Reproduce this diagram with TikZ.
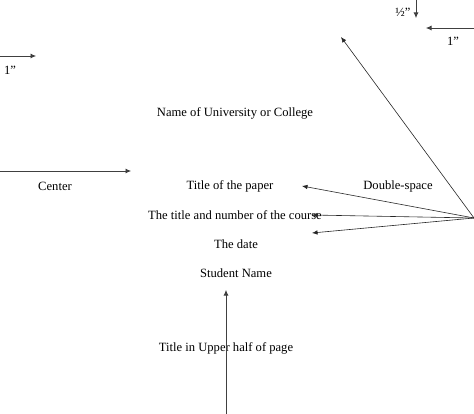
\documentclass[tikz,border=0pt]{standalone}
\usepackage{fontspec}
\setmainfont{Liberation Serif}
\usetikzlibrary{arrows.meta}

\tikzset{
  lbl/.style={inner sep=0pt, font=\fontsize{12.6}{14}\selectfont},
  pointer/.style={draw=black!75, line width=0.7pt, -{Latex[length=5.5pt,width=5pt]}},
  fan/.style={draw=black!85, line width=0.6pt, -{Latex[length=5.5pt,width=4.5pt]}}
}

\begin{document}
\begin{tikzpicture}[x=1pt, y=-1pt]
  % page area
  \useasboundingbox (0,0) rectangle (474,414);

  % margins
  \coordinate (topstart) at (416,0);
  \coordinate (topend) at (416,18);
  \node[lbl] (half) at (403,12) {½”};
  \draw[pointer] (topstart) -- (topend);

  \coordinate (rstart) at (474,28);
  \coordinate (rend) at (426,28);
  \node[lbl] (rone) at (453,41) {1”};
  \draw[pointer] (rstart) -- (rend);

  \coordinate (lstart) at (0,56);
  \coordinate (lend) at (36,56);
  \node[lbl] (lone) at (10,70) {1”};
  \draw[pointer] (lstart) -- (lend);

  % title block
  \node[lbl] (univ) at (235,113) {Name of University or College};
  \node[lbl] (paper) at (230,186) {Title of the paper};
  \node[lbl] (course) at (235,215) {The title and number of the course};
  \node[lbl] (date) at (236,244) {The date};
  \node[lbl] (student) at (236,273) {Student Name};
  \node[lbl] (upper) at (226,348) {Title in Upper half of page};

  % centering
  \coordinate (cstart) at (0,171);
  \coordinate (cend) at (131,171);
  \node[lbl] (center) at (55,186) {Center};
  \draw[pointer] (cstart) -- (cend);

  % double-space fan
  \node[lbl] (dbl) at (398,186) {Double-space};
  \coordinate (hub) at (474,218);
  \coordinate (tipa) at (341,37);
  \coordinate (tipb) at (302,186);
  \coordinate (tipc) at (312,215);
  \coordinate (tipd) at (312,233);
  \foreach \t in {tipa,tipb,tipc,tipd}
    \draw[fan] (hub) -- (\t);

  % upper half
  \coordinate (bstart) at (226,414);
  \coordinate (bend) at (226,290);
  \draw[pointer] (bstart) -- (bend);
\end{tikzpicture}
\end{document}
